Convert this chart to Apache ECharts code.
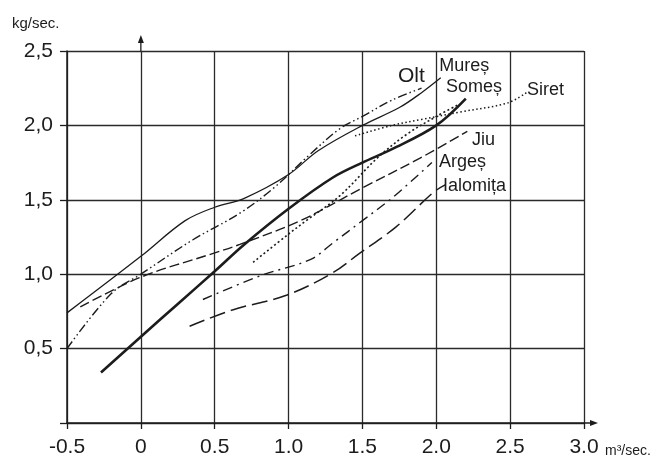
<!DOCTYPE html>
<html><head><meta charset="utf-8">
<script src="https://cdn.jsdelivr.net/npm/echarts@6/dist/echarts.min.js"></script>
<style>html,body{margin:0;padding:0;background:#fff}#c{width:661px;height:459px}</style>
</head><body><div id="c"></div>
<script>
// x tick labels and y tick labels
const xTickLabels = {'-0.5':'-0.5','0':'0','0.5':'0.5','1':'1.0','1.5':'1.5','2':'2.0','2.5':'2.5','3':'3.0'};
const yTickLabels = {'0':'','0.5':'0,5','1':'1,0','1.5':'1,5','2':'2,0','2.5':'2,5'};

// series values [x (m3/sec), y (kg/sec)]
const olt = [[-0.27,0.34],[0,0.58],[0.25,0.8],[0.5,1.02],[0.7,1.2],[1.0,1.44],[1.3,1.65],[1.5,1.75],[1.7,1.84],[2.0,2.0],[2.2,2.18]];
const mures = [[-0.5,0.74],[0,1.12],[0.3,1.36],[0.5,1.45],[0.7,1.51],[1.0,1.67],[1.2,1.83],[1.5,2.0],[1.75,2.12],[1.9,2.22],[2.03,2.32]];
const dashDotDot = [[-0.5,0.5],[-0.2,0.87],[0,1.0],[0.35,1.23],[0.67,1.41],[0.9,1.58],[1.15,1.81],[1.35,1.98],[1.5,2.06],[1.7,2.17],[1.9,2.25]];
const somes = [[0.76,1.08],[1.0,1.27],[1.12,1.36],[1.35,1.53],[1.6,1.78],[1.8,1.94],[2.0,2.06],[2.15,2.14]];
const siret = [[1.45,1.93],[1.7,2.0],[1.9,2.04],[2.16,2.09],[2.48,2.15],[2.61,2.22]];
const jiu = [[-0.41,0.78],[0,0.98],[0.49,1.14],[0.67,1.20],[1.08,1.36],[1.5,1.58],[1.89,1.78],[2.21,1.96]];
const arges = [[0.42,0.83],[0.81,0.99],[1.15,1.10],[1.3,1.21],[1.5,1.36],[1.71,1.52],[1.97,1.75]];
const ialomita = [[0.33,0.65],[0.62,0.76],[0.99,0.86],[1.3,1.01],[1.48,1.14],[1.73,1.32],[1.98,1.55],[2.06,1.60]];

// label texts and their anchor (data coords, left-middle)
const labelNames = ['Olt','Mureș','Someș','Siret','Jiu','Argeș','Ialomița'];
const labelAnchors = [[1.74,2.33],[2.02,2.40],[2.066,2.255],[2.614,2.235],[2.242,1.90],[2.019,1.757],[2.046,1.595]];
const labelSizes = [21,18,18,18,18,18,18];

const ink = '#1c1c1c';
const FONT = '"Liberation Sans", Arial, sans-serif';

const chart = echarts.init(document.getElementById('c'), null, {renderer:'canvas'});

function mk(name, data, width, type, smooth){
  return {name, type:'line', data, showSymbol:false, smooth: smooth===undefined?0.35:smooth, silent:true,
    lineStyle:{color:ink, width, type}, z:5};
}

chart.setOption({
  animation:false,
  textStyle:{fontFamily:FONT},
  grid:{left:67, right:77, top:51, bottom:36, containLabel:false},
  xAxis:{type:'value', min:-0.5, max:3, interval:0.5,
    axisLine:{show:true, onZero:false, lineStyle:{color:ink, width:1.5}},
    axisTick:{show:true, length:6, lineStyle:{color:ink, width:1.3}},
    splitLine:{show:true, lineStyle:{color:'#2a2a2a', width:1.3}},
    axisLabel:{fontSize:21, color:ink, margin:14, fontFamily:FONT,
      formatter:v=>xTickLabels[String(v)] ?? String(v)}
  },
  yAxis:{type:'value', min:0, max:2.5, interval:0.5,
    axisLine:{show:true, onZero:false, lineStyle:{color:ink, width:1.5}},
    axisTick:{show:true, length:7, lineStyle:{color:ink, width:1.3}},
    splitLine:{show:true, lineStyle:{color:'#2a2a2a', width:1.3}},
    axisLabel:{fontSize:21, color:ink, margin:14, fontFamily:FONT,
      formatter:v=>yTickLabels[String(v)] ?? String(v)}
  },
  series:[
    mk('Olt', olt, 2.6, 'solid'),
    mk('Mureș', mures, 1.3, 'solid'),
    mk('(dash-dot-dot)', dashDotDot, 1.4, [9,3,1.5,3,1.5,3]),
    mk('Someș', somes, 1.6, [2,2.5]),
    mk('Siret', siret, 1.5, [1.5,2.5]),
    mk('Jiu', jiu, 1.4, [10,4]),
    mk('Argeș', arges, 1.4, [10,5,2,5]),
    mk('Ialomița', ialomita, 1.5, [16,6])
  ]
});

function px(p){ return chart.convertToPixel({gridIndex:0}, p); }
const g = [];
// axis arrows
const yTop = px([0,2.5]);
g.push({type:'line', shape:{x1:yTop[0], y1:yTop[1], x2:yTop[0], y2:yTop[1]-12}, style:{stroke:ink, lineWidth:1.3}});
g.push({type:'polygon', shape:{points:[[yTop[0],yTop[1]-16],[yTop[0]-3,yTop[1]-8],[yTop[0]+3,yTop[1]-8]]}, style:{fill:ink}});
const xEnd = px([3,0]);
g.push({type:'line', shape:{x1:xEnd[0], y1:xEnd[1], x2:xEnd[0]+10, y2:xEnd[1]}, style:{stroke:ink, lineWidth:1.5}});
g.push({type:'polygon', shape:{points:[[xEnd[0]+14,xEnd[1]],[xEnd[0]+6,xEnd[1]-3],[xEnd[0]+6,xEnd[1]+3]]}, style:{fill:ink}});
// unit labels
g.push({type:'text', x:12, y:24, style:{text:'kg/sec.', font:'15px '+FONT, fill:ink, verticalAlign:'middle'}});
g.push({type:'text', x:xEnd[0]+21, y:xEnd[1]+28, style:{text:'m³/sec.', font:'14px '+FONT, fill:ink, verticalAlign:'middle'}});
// curve labels
labelNames.forEach((t,i)=>{
  const p = px(labelAnchors[i]);
  g.push({type:'text', x:p[0], y:p[1], style:{text:t, font:labelSizes[i]+'px '+FONT, fill:ink, verticalAlign:'middle', align:'left'}});
});
chart.setOption({graphic:g});
</script>
</body></html>
